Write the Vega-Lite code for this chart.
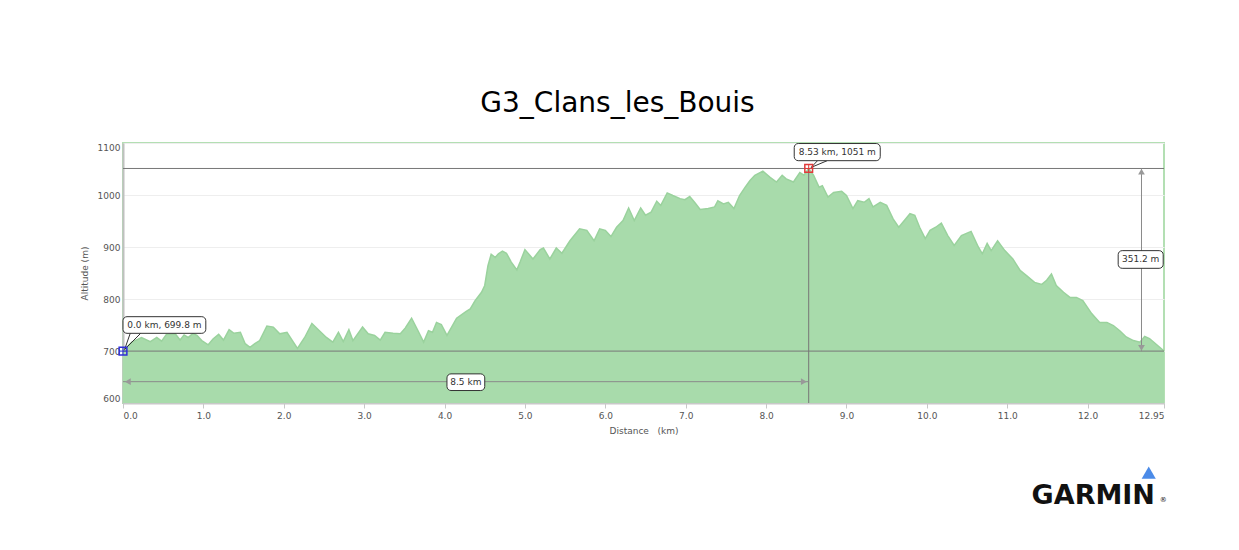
{
  "$schema": "https://vega.github.io/schema/vega-lite/v6.json",
  "width": 1041,
  "height": 260,
  "autosize": {"type": "none"},
  "padding": {"left": 123, "top": 143, "right": 75, "bottom": 147},
  "background": "white",
  "title": {"text": "G3_Clans_les_Bouis", "font": "DejaVu Sans", "fontSize": 28, "fontWeight": "normal", "color": "#000000", "anchor": "middle", "frame": "group", "dx": -26, "offset": 3, "baseline": "alphabetic"},
  "config": {
    "view": {"stroke": "#b3dfb3", "strokeWidth": 2},
    "axis": {"labelFont": "DejaVu Sans", "titleFont": "DejaVu Sans", "labelFontSize": 9, "titleFontSize": 9, "titleFontWeight": "normal", "labelColor": "#555555", "titleColor": "#555555"}
  },
  "data": {"values": [{}]},
  "datasets": {
    "profile": [
      {"km": 0.00, "alt": 700}, {"km": 0.11, "alt": 717}, {"km": 0.23, "alt": 726}, {"km": 0.34, "alt": 718},
      {"km": 0.42, "alt": 726}, {"km": 0.48, "alt": 719}, {"km": 0.54, "alt": 732}, {"km": 0.65, "alt": 733},
      {"km": 0.71, "alt": 721}, {"km": 0.76, "alt": 731}, {"km": 0.81, "alt": 726}, {"km": 0.87, "alt": 734},
      {"km": 0.92, "alt": 730}, {"km": 0.98, "alt": 720}, {"km": 1.06, "alt": 712}, {"km": 1.12, "alt": 723},
      {"km": 1.19, "alt": 732}, {"km": 1.25, "alt": 721}, {"km": 1.32, "alt": 741}, {"km": 1.38, "alt": 734},
      {"km": 1.46, "alt": 736}, {"km": 1.52, "alt": 714}, {"km": 1.58, "alt": 707}, {"km": 1.64, "alt": 714},
      {"km": 1.70, "alt": 720}, {"km": 1.79, "alt": 748}, {"km": 1.87, "alt": 746}, {"km": 1.95, "alt": 733},
      {"km": 2.04, "alt": 736}, {"km": 2.17, "alt": 705}, {"km": 2.26, "alt": 726}, {"km": 2.35, "alt": 753},
      {"km": 2.43, "alt": 741}, {"km": 2.53, "alt": 726}, {"km": 2.61, "alt": 717}, {"km": 2.68, "alt": 736},
      {"km": 2.74, "alt": 718}, {"km": 2.81, "alt": 741}, {"km": 2.86, "alt": 720}, {"km": 2.98, "alt": 746},
      {"km": 3.05, "alt": 733}, {"km": 3.13, "alt": 730}, {"km": 3.20, "alt": 721}, {"km": 3.26, "alt": 736},
      {"km": 3.36, "alt": 734}, {"km": 3.45, "alt": 733}, {"km": 3.51, "alt": 744}, {"km": 3.59, "alt": 763},
      {"km": 3.67, "alt": 739}, {"km": 3.74, "alt": 717}, {"km": 3.80, "alt": 739}, {"km": 3.85, "alt": 736},
      {"km": 3.90, "alt": 755}, {"km": 3.96, "alt": 751}, {"km": 4.03, "alt": 730}, {"km": 4.15, "alt": 763},
      {"km": 4.27, "alt": 776}, {"km": 4.32, "alt": 781}, {"km": 4.38, "alt": 797}, {"km": 4.46, "alt": 813},
      {"km": 4.50, "alt": 826}, {"km": 4.54, "alt": 864}, {"km": 4.58, "alt": 886}, {"km": 4.63, "alt": 880},
      {"km": 4.67, "alt": 887}, {"km": 4.72, "alt": 892}, {"km": 4.77, "alt": 888}, {"km": 4.83, "alt": 871},
      {"km": 4.90, "alt": 856}, {"km": 4.94, "alt": 871}, {"km": 5.00, "alt": 895}, {"km": 5.10, "alt": 877},
      {"km": 5.19, "alt": 895}, {"km": 5.23, "alt": 898}, {"km": 5.31, "alt": 877}, {"km": 5.39, "alt": 898},
      {"km": 5.46, "alt": 888}, {"km": 5.56, "alt": 912}, {"km": 5.68, "alt": 935}, {"km": 5.77, "alt": 932},
      {"km": 5.86, "alt": 912}, {"km": 5.93, "alt": 935}, {"km": 6.00, "alt": 932}, {"km": 6.07, "alt": 920},
      {"km": 6.14, "alt": 938}, {"km": 6.22, "alt": 951}, {"km": 6.29, "alt": 975}, {"km": 6.36, "alt": 951},
      {"km": 6.44, "alt": 975}, {"km": 6.50, "alt": 961}, {"km": 6.57, "alt": 967}, {"km": 6.64, "alt": 988},
      {"km": 6.69, "alt": 980}, {"km": 6.77, "alt": 1004}, {"km": 6.84, "alt": 999}, {"km": 6.93, "alt": 993},
      {"km": 6.99, "alt": 991}, {"km": 7.05, "alt": 997}, {"km": 7.11, "alt": 986}, {"km": 7.18, "alt": 972},
      {"km": 7.28, "alt": 974}, {"km": 7.36, "alt": 977}, {"km": 7.40, "alt": 989}, {"km": 7.47, "alt": 983},
      {"km": 7.53, "alt": 986}, {"km": 7.60, "alt": 974}, {"km": 7.67, "alt": 999}, {"km": 7.74, "alt": 1015},
      {"km": 7.80, "alt": 1028}, {"km": 7.86, "alt": 1038}, {"km": 7.96, "alt": 1046}, {"km": 8.05, "alt": 1034},
      {"km": 8.13, "alt": 1025}, {"km": 8.20, "alt": 1038}, {"km": 8.25, "alt": 1031}, {"km": 8.34, "alt": 1025},
      {"km": 8.42, "alt": 1043}, {"km": 8.47, "alt": 1038}, {"km": 8.53, "alt": 1051}, {"km": 8.59, "alt": 1038},
      {"km": 8.66, "alt": 1015}, {"km": 8.70, "alt": 1018}, {"km": 8.77, "alt": 996}, {"km": 8.84, "alt": 1005},
      {"km": 8.94, "alt": 1007}, {"km": 9.00, "alt": 999}, {"km": 9.08, "alt": 974}, {"km": 9.14, "alt": 989},
      {"km": 9.22, "alt": 986}, {"km": 9.28, "alt": 993}, {"km": 9.33, "alt": 977}, {"km": 9.42, "alt": 986},
      {"km": 9.50, "alt": 980}, {"km": 9.58, "alt": 954}, {"km": 9.65, "alt": 938}, {"km": 9.72, "alt": 951},
      {"km": 9.79, "alt": 964}, {"km": 9.85, "alt": 961}, {"km": 9.91, "alt": 938}, {"km": 9.98, "alt": 916},
      {"km": 10.04, "alt": 932}, {"km": 10.11, "alt": 938}, {"km": 10.18, "alt": 946}, {"km": 10.26, "alt": 922},
      {"km": 10.34, "alt": 903}, {"km": 10.43, "alt": 922}, {"km": 10.55, "alt": 930}, {"km": 10.64, "alt": 900},
      {"km": 10.69, "alt": 887}, {"km": 10.75, "alt": 907}, {"km": 10.80, "alt": 893}, {"km": 10.88, "alt": 912},
      {"km": 10.97, "alt": 893}, {"km": 11.07, "alt": 877}, {"km": 11.16, "alt": 855}, {"km": 11.24, "alt": 845},
      {"km": 11.34, "alt": 832}, {"km": 11.43, "alt": 828}, {"km": 11.49, "alt": 836}, {"km": 11.55, "alt": 848},
      {"km": 11.61, "alt": 826}, {"km": 11.70, "alt": 813}, {"km": 11.78, "alt": 803}, {"km": 11.86, "alt": 803},
      {"km": 11.94, "alt": 797}, {"km": 12.05, "alt": 772}, {"km": 12.15, "alt": 755}, {"km": 12.24, "alt": 755},
      {"km": 12.32, "alt": 749}, {"km": 12.40, "alt": 739}, {"km": 12.48, "alt": 727}, {"km": 12.57, "alt": 720},
      {"km": 12.65, "alt": 717}, {"km": 12.71, "alt": 728}, {"km": 12.77, "alt": 724}, {"km": 12.86, "alt": 712},
      {"km": 12.95, "alt": 700}
    ]
  },
  "layer": [
    {
      "data": {"name": "profile"},
      "mark": {"type": "area", "color": "#a8dbab", "opacity": 1, "fillOpacity": 1, "line": {"color": "#9ad29d", "strokeWidth": 1.5}, "clip": true},
      "encoding": {
        "x": {"field": "km", "type": "quantitative", "scale": {"domain": [0, 12.95], "nice": false, "zero": false}, "axis": {"title": "Distance\u00a0\u00a0\u00a0(km)", "values": [0, 1, 2, 3, 4, 5, 6, 7, 8, 9, 10, 11, 12, 12.95], "labelExpr": "datum.value == 12.95 ? '12.95' : format(datum.value, '.1f')", "grid": false, "domainColor": "#c8c8c8", "domainWidth": 2, "tickColor": "#c8c8c8", "tickSize": 5, "labelPadding": 3, "titlePadding": 6, "labelOverlap": false, "labelFlush": true}},
        "y": {"field": "alt", "type": "quantitative", "scale": {"domain": [600, 1100], "nice": false, "zero": false}, "axis": {"title": "Altitude (m)", "values": [600, 700, 800, 900, 1000, 1100], "format": "d", "grid": true, "gridColor": "#eeeeee", "domainColor": "#c0c0c0", "domainWidth": 2, "ticks": false, "labelPadding": 3, "labelFlush": true, "titlePadding": 8}}
      }
    },
    {"mark": {"type": "rule", "color": "#777777", "strokeWidth": 1}, "encoding": {"y": {"datum": 1051}}},
    {"mark": {"type": "rule", "color": "#777777", "strokeWidth": 1}, "encoding": {"y": {"datum": 699.8}}},
    {"mark": {"type": "rule", "color": "#777777", "strokeWidth": 1}, "encoding": {"x": {"datum": 8.53}, "y": {"datum": 1051}, "y2": {"datum": 600}}},
    {"mark": {"type": "rule", "color": "#8a8a8a", "strokeWidth": 1}, "encoding": {"x": {"datum": 0}, "x2": {"datum": 8.53}, "y": {"datum": 641}}},
    {"mark": {"type": "rule", "color": "#8a8a8a", "strokeWidth": 1}, "encoding": {"x": {"datum": 12.67}, "y": {"datum": 699.8}, "y2": {"datum": 1051}}},
    {"mark": {"type": "point", "shape": "triangle-left", "filled": true, "color": "#999999", "size": 45, "opacity": 1}, "encoding": {"x": {"datum": 0.06}, "y": {"datum": 641}}},
    {"mark": {"type": "point", "shape": "triangle-right", "filled": true, "color": "#999999", "size": 45, "opacity": 1}, "encoding": {"x": {"datum": 8.47}, "y": {"datum": 641}}},
    {"mark": {"type": "point", "shape": "triangle-up", "filled": true, "color": "#999999", "size": 45, "opacity": 1}, "encoding": {"x": {"datum": 12.67}, "y": {"datum": 1045}}},
    {"mark": {"type": "point", "shape": "triangle-down", "filled": true, "color": "#999999", "size": 45, "opacity": 1}, "encoding": {"x": {"datum": 12.67}, "y": {"datum": 706}}},
    {"mark": {"type": "rule", "color": "#333333", "strokeWidth": 1}, "encoding": {"x": {"datum": 0.09}, "x2": {"datum": 0.02}, "y": {"datum": 734}, "y2": {"datum": 703}}},
    {"mark": {"type": "rule", "color": "#333333", "strokeWidth": 1}, "encoding": {"x": {"datum": 0.22}, "x2": {"datum": 0.02}, "y": {"datum": 734}, "y2": {"datum": 703}}},
    {"mark": {"type": "rule", "color": "#333333", "strokeWidth": 1}, "encoding": {"x": {"datum": 8.56}, "x2": {"datum": 8.64}, "y": {"datum": 1053}, "y2": {"datum": 1066}}},
    {"mark": {"type": "rule", "color": "#333333", "strokeWidth": 1}, "encoding": {"x": {"datum": 8.56}, "x2": {"datum": 8.76}, "y": {"datum": 1053}, "y2": {"datum": 1066}}},
    {"mark": {"type": "rect", "fill": "white", "stroke": "#333333", "strokeWidth": 1, "cornerRadius": 4, "clip": false}, "encoding": {"x": {"datum": 0.0}, "x2": {"datum": 1.03}, "y": {"datum": 734}, "y2": {"datum": 766}}},
    {"mark": {"type": "rect", "fill": "white", "stroke": "#333333", "strokeWidth": 1, "cornerRadius": 4, "clip": false}, "encoding": {"x": {"datum": 8.35}, "x2": {"datum": 9.42}, "y": {"datum": 1066}, "y2": {"datum": 1099}}},
    {"mark": {"type": "rect", "fill": "white", "stroke": "#333333", "strokeWidth": 1, "cornerRadius": 4}, "encoding": {"x": {"datum": 4.03}, "x2": {"datum": 4.5}, "y": {"datum": 624}, "y2": {"datum": 656}}},
    {"mark": {"type": "rect", "fill": "white", "stroke": "#333333", "strokeWidth": 1, "cornerRadius": 4}, "encoding": {"x": {"datum": 12.38}, "x2": {"datum": 12.94}, "y": {"datum": 859}, "y2": {"datum": 893}}},
    {"mark": {"type": "text", "font": "DejaVu Sans", "fontSize": 9, "color": "#333333", "align": "center", "baseline": "middle"}, "encoding": {"x": {"datum": 0.515}, "y": {"datum": 750}, "text": {"value": "0.0 km, 699.8 m"}}},
    {"mark": {"type": "text", "font": "DejaVu Sans", "fontSize": 9, "color": "#333333", "align": "center", "baseline": "middle"}, "encoding": {"x": {"datum": 8.885}, "y": {"datum": 1082.5}, "text": {"value": "8.53 km, 1051 m"}}},
    {"mark": {"type": "text", "font": "DejaVu Sans", "fontSize": 9, "color": "#333333", "align": "center", "baseline": "middle"}, "encoding": {"x": {"datum": 4.265}, "y": {"datum": 640}, "text": {"value": "8.5 km"}}},
    {"mark": {"type": "text", "font": "DejaVu Sans", "fontSize": 9, "color": "#333333", "align": "center", "baseline": "middle"}, "encoding": {"x": {"datum": 12.66}, "y": {"datum": 876}, "text": {"value": "351.2 m"}}},
    {"mark": {"type": "point", "shape": "square", "filled": false, "stroke": "#2f2fd8", "strokeWidth": 1.5, "size": 60, "opacity": 1, "clip": false}, "encoding": {"x": {"datum": 0}, "y": {"datum": 699.8}}},
    {"mark": {"type": "point", "shape": "M-1,0H1M0,-1V1", "filled": false, "stroke": "#2f2fd8", "strokeWidth": 1, "size": 60, "opacity": 1, "clip": false}, "encoding": {"x": {"datum": 0}, "y": {"datum": 699.8}}},
    {"mark": {"type": "point", "shape": "square", "filled": false, "stroke": "#e03a3a", "strokeWidth": 1.5, "size": 60, "opacity": 1}, "encoding": {"x": {"datum": 8.53}, "y": {"datum": 1051}}},
    {"mark": {"type": "point", "shape": "M-1,0H1M0,-1V1", "filled": false, "stroke": "#e03a3a", "strokeWidth": 1, "size": 60, "opacity": 1}, "encoding": {"x": {"datum": 8.53}, "y": {"datum": 1051}}},
    {"mark": {"type": "text", "font": "DejaVu Sans", "fontSize": 27, "fontWeight": "bold", "color": "#111111", "align": "center", "baseline": "alphabetic", "clip": false}, "encoding": {"x": {"datum": 12.07}, "y": {"datum": 406.7}, "text": {"value": "GARMIN"}}},
    {"mark": {"type": "text", "font": "DejaVu Sans", "fontSize": 7, "color": "#111111", "align": "center", "baseline": "alphabetic", "clip": false}, "encoding": {"x": {"datum": 12.94}, "y": {"datum": 409}, "text": {"value": "®"}}},
    {"mark": {"type": "point", "shape": "triangle-up", "filled": true, "color": "#4b8be8", "size": 200, "opacity": 1, "clip": false}, "encoding": {"x": {"datum": 12.76}, "y": {"datum": 466}}}
  ]
}
